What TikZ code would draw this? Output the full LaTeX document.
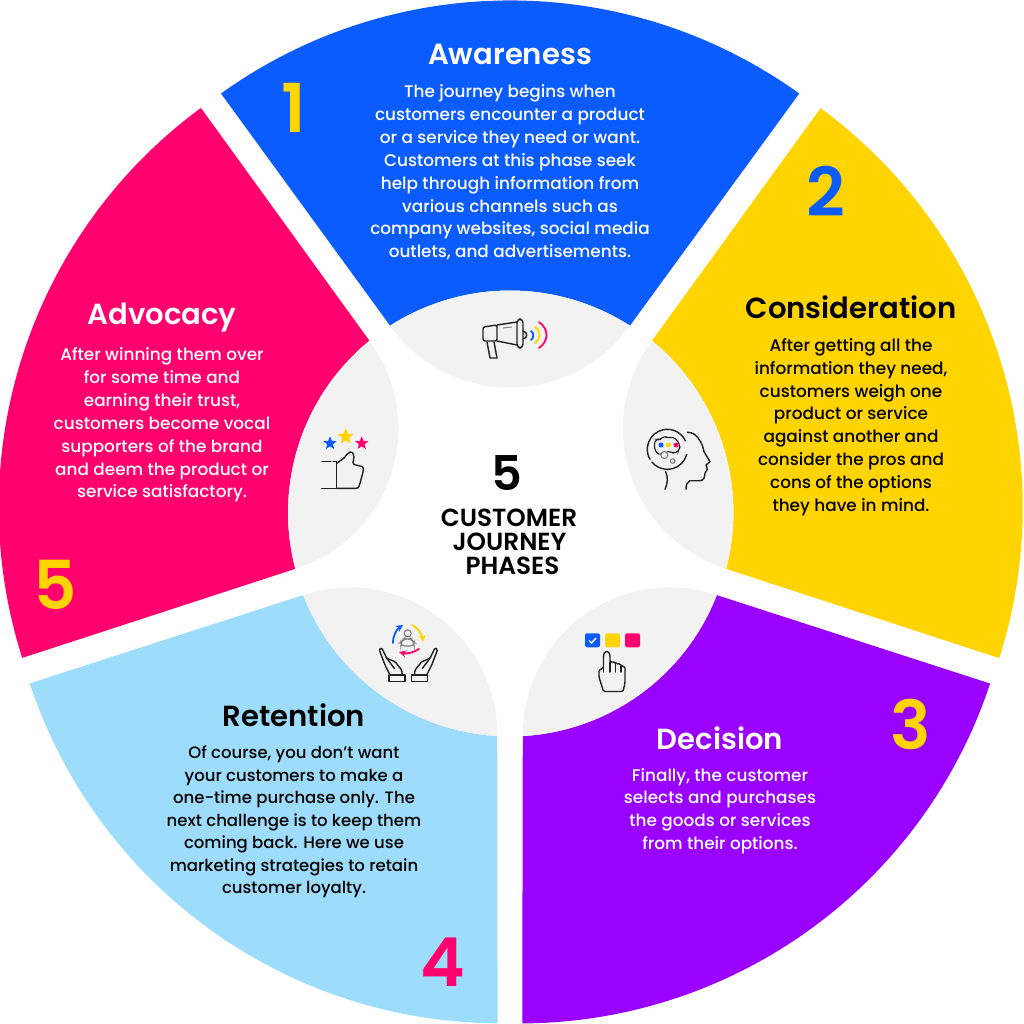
\documentclass[tikz,border=0pt]{standalone}
\usepackage{fontspec}
\setmainfont{Poppins Medium}[BoldFont={Poppins SemiBold}]
\usetikzlibrary{shapes.geometric,arrows.meta}
\begin{document}
\begin{tikzpicture}[x=0.025cm,y=-0.025cm]
\definecolor{cblue}{HTML}{0A5CFF}\definecolor{cyellow}{HTML}{FFD400}
\definecolor{cpurple}{HTML}{9900FF}\definecolor{csky}{HTML}{9DDCFB}
\definecolor{cpink}{HTML}{FF006E}\definecolor{cgrey}{HTML}{F2F2F2}
\definecolor{cink}{HTML}{222222}
\def\segpath{(124.6:509) arc[start angle=125.7,end angle=54.3,radius=495.5] -- (57.3:222) arc[start angle=57.3,end angle=122.7,radius=222] -- cycle}
\def\lenspath{(57.3:222) arc[start angle=57.3,end angle=122.7,radius=222] arc[start angle=215.4,end angle=324.6,radius=147.1] -- cycle}
\tikzset{seg/.style={shift={(510,512.5)},y=0.025cm,rotate=#1},
 headline/.style={font=\fontsize{20.7}{24}\selectfont\bfseries,inner sep=0pt},
 bodytext/.style={font=\fontsize{12}{16.25}\selectfont,align=center,text=white,inner sep=0pt},
 numeral/.style={font=\fontsize{48}{48}\selectfont\bfseries,inner sep=0pt},
 centretext/.style={font=\fontsize{17.6}{18}\selectfont\bfseries,inner sep=0pt},
 iconline/.style={draw=cink,line width=1pt,line cap=round,line join=round},
 wave/.style={line width=1.3pt,line cap=round},
 starmark/.style={star,star points=5,star point ratio=2.3,inner sep=0pt}}
\useasboundingbox (0,0) rectangle (1024,1024);
% segments
\fill[cblue,seg=0] \segpath;
\fill[cyellow,xshift=1pt,seg=-72] \segpath;
\fill[cpurple,yshift=-1.4pt,seg=-144] \segpath;
\fill[csky,yshift=-1.4pt,seg=144] \segpath;
\fill[cpink,seg=72] \segpath;
\fill[cgrey,seg=0] \lenspath;
\fill[cgrey,xshift=1pt,seg=-72] \lenspath;
\fill[cgrey,yshift=-1.4pt,seg=-144] \lenspath;
\fill[cgrey,yshift=-1.4pt,seg=144] \lenspath;
\fill[cgrey,seg=72] \lenspath;
% headings
\node[headline,text=white] (awareness) at (510,54) {Awareness};
\node[headline,text=black] (consideration) at (851,307) {Consideration};
\node[headline,text=white] (decision) at (720,738) {Decision};
\node[headline,text=black] (retention) at (294,715) {Retention};
\node[headline,text=white] (advocacy) at (162,318) {Advocacy};
% numbers
\node[numeral,text=cyellow] (n1) at (294,108) {1};
\node[numeral,text=cblue] (n2) at (826,191) {2};
\node[numeral,text=cyellow] (n3) at (911,724) {3};
\node[numeral,text=cpink] (n4) at (443,962) {4};
\node[numeral,text=cyellow] (n5) at (55,585) {5};
% texts
\node[bodytext] (t1) at (510,172.5) {The journey begins when\\customers encounter a product\\or a service they need or want.\\Customers at this phase seek\\help through information from\\various channels such as\\company websites, social media\\outlets, and advertisements.};
\node[bodytext,text=black] (t2) at (851,427) {After getting all the\\information they need,\\customers weigh one\\product or service\\against another and\\consider the pros and\\cons of the options\\they have in mind.};
\node[bodytext] (t3) at (720,811) {Finally, the customer\\selects and purchases\\the goods or services\\from their options.};
\node[bodytext,text=black,font=\fontsize{11.75}{16}\selectfont] (t4) at (294,822) {Of course, you don’t want\\your customers to make a\\one-time purchase only. The\\next challenge is to keep them\\coming back. Here we use\\marketing strategies to retain\\customer loyalty.};
\node[bodytext] (t5) at (162,425) {After winning them over\\for some time and\\earning their trust,\\customers become vocal\\supporters of the brand\\and deem the product or\\service satisfactory.};
% centre
\node[font=\fontsize{34}{34}\selectfont\bfseries,inner sep=0pt] (five) at (507,473) {5};
\node[centretext] (c1) at (509,518) {CUSTOMER};
\node[centretext] (c2) at (509.5,542) {JOURNEY};
\node[centretext] (c3) at (512.5,566) {PHASES};
% megaphone
\draw[iconline,rounded corners=1.5] (497,325) -- (483,327) -- (483,341) -- (497,341) -- cycle;
\draw[iconline] (497,325) -- (517,322) (497,341) -- (517,345);
\draw[iconline,rounded corners=2.8] (517,319) rectangle (523,348);
\draw[iconline] (523,331) .. controls (528,332) and (528,338) .. (523,339);
\draw[iconline] (487,342) -- (490,358) -- (497,358) -- (494,342);
\draw[draw=gray,line width=0.7pt] (503,328) -- (512,327);
\draw[cblue,wave] (531,331) .. controls (534,333) and (534,338) .. (531,340);
\draw[cyellow,wave] (535,327) .. controls (541,331) and (541,339) .. (535,343);
\draw[cpink,wave] (539,322) .. controls (549,329) and (549,341) .. (539,348);
% head
\draw[iconline] (667.3,449.3) ++(-25:20) arc[start angle=-25,end angle=-210,radius=20];
\draw[iconline] (667.3,449.3) ++(140:20) arc[start angle=140,end angle=15,radius=20];
\draw[draw=cink,line width=0.8pt,rounded corners=2] (654,445) -- (656,439) -- (660,440) -- (664,436) -- (668,438) -- (673,437) -- (678,441) -- (680,447) -- (678,452) -- (673,453) -- (668,451) -- (662,455) -- (656,453) -- cycle;
\draw[draw=gray,line width=0.8pt,fill=cgrey] (664.3,455) circle (3.5);
\draw[draw=gray,line width=0.8pt] (672.7,461) circle (2.3);
\fill[cblue] (661,445) circle (2.5);
\fill[cyellow] (668.3,445) circle (2.5);
\fill[cpink] (676,445) circle (2.5);
\draw[iconline] (665.7,471.7) .. controls (668,478) and (668,482) .. (665,489.3);
\draw[iconline] (687.3,432.3) .. controls (692,432) and (696,435) .. (698.3,438.3) .. controls (702,443) and (703,447) .. (704,451.7) -- (710,461.7) -- (706,465) -- (707.3,469.3) -- (705,473.3) -- (704,478.3) .. controls (702,481) and (700,481) .. (698.3,480.7) -- (690,480.7) .. controls (687,482) and (686,485) .. (686,489.3);
% choice and pointing hand
\fill[cblue,rounded corners=1.5] (585,633.3) rectangle (600,647.3);
\fill[cyellow,rounded corners=1.5] (605,633.3) rectangle (620,647.3);
\fill[cpink,rounded corners=1.5] (625,633.3) rectangle (640,647.3);
\draw[white,line width=1pt] (589,640.5) -- (591.5,643) -- (596,638);
\draw[iconline,rounded corners=1] (603.5,691.5) -- (599,677) -- (599,670) -- (603.5,668) -- (603.5,655) -- (605,651.5) -- (608.5,651.5) -- (610,655) -- (610,662) -- (615,662) -- (616,664) -- (620,663.5) -- (621,666) -- (625,666.5) -- (625,683) -- (623,691.5) -- cycle;
\draw[iconline] (610,662) -- (610,672) (615.5,664) -- (615.5,672) (621,666) -- (621,672) (603.5,668) -- (603.5,672);
% caring hands
\draw[draw=gray,line width=0.8pt] (407.7,633.3) circle (3.5);
\draw[draw=gray,line width=0.8pt,rounded corners=2.5] (401,646) -- (401,642) -- (404,639) -- (411,639) -- (414,642) -- (414,646) -- cycle;
\draw[cblue,wave,-{Stealth[length=5pt,width=5pt]}] (393,643) .. controls (393,635) and (397,629) .. (403,625);
\draw[cyellow,wave,-{Stealth[length=5pt,width=5pt]}] (412,625) .. controls (418,628) and (422,634) .. (423,642);
\draw[cpink,wave,-{Stealth[length=5pt,width=5pt]}] (419,649) .. controls (413,653) and (406,654) .. (399,652);
\draw[iconline,rounded corners=1] (390,675) -- (385,665) -- (379,649.3) -- (381.7,647.7) -- (386.7,658.3) -- (395,661.7) -- (401.7,670) -- (402.3,675);
\draw[iconline] (386.7,658.3) -- (394.3,668.3);
\draw[iconline] (389,675) rectangle (405,681.7);
\draw[iconline,rounded corners=1] (426.7,675) -- (431.7,665) -- (437.7,649.3) -- (435,647.7) -- (430,658.3) -- (421.7,661.7) -- (415,670) -- (414.4,675);
\draw[iconline] (430,658.3) -- (422.4,668.3);
\draw[iconline] (411.7,675) rectangle (427.7,681.7);
% thumb up
\node[starmark,fill=cblue,minimum size=10pt] (s1) at (330,443.3) {};
\node[starmark,fill=cyellow,minimum size=12pt] (s2) at (345.7,436.7) {};
\node[starmark,fill=cpink,minimum size=10pt] (s3) at (361.7,443.3) {};
\draw[iconline] (322,461.7) -- (331,461.7) (333,461.7) -- (336.7,461.7) -- (336.7,488.3) -- (321.7,488.3);
\draw[iconline,rounded corners=1.5] (336.7,463.3) -- (345,457.3) -- (348.3,452.3) -- (351.7,451.7) -- (354.3,455) -- (352.7,464.3) -- (363.3,466.7) -- (363.3,471.7) -- (361.7,476.7) -- (360,483.3) -- (358.3,488.3) -- (336.7,488.3);
\end{tikzpicture}
\end{document}
